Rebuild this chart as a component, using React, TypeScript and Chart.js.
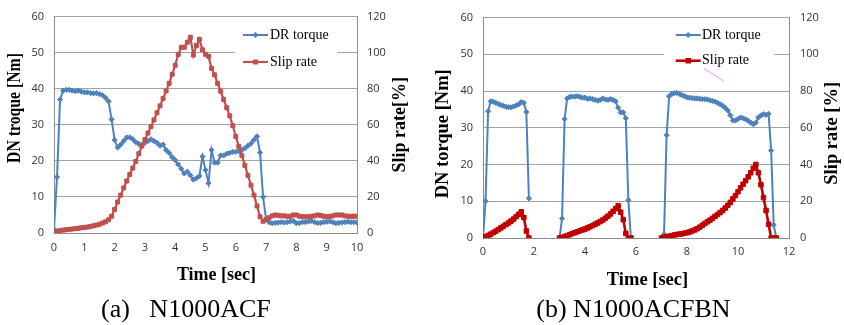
import React, { useEffect, useRef } from 'react';
import { Chart, registerables } from 'chart.js';

Chart.register(...registerables);

// ---------------- (a) N1000ACF ----------------
const timeA = [
  0, 0.1, 0.2, 0.3, 0.4, 0.5, 0.6, 0.7, 0.8, 0.9,
  1, 1.1, 1.2, 1.3, 1.4, 1.5, 1.6, 1.7, 1.8, 1.9,
  2, 2.1, 2.2, 2.3, 2.4, 2.5, 2.6, 2.7, 2.8, 2.9,
  3, 3.1, 3.2, 3.3, 3.4, 3.5, 3.6, 3.7, 3.8, 3.9,
  4, 4.1, 4.2, 4.3, 4.4, 4.5, 4.6, 4.7, 4.8, 4.9,
  5, 5.1, 5.2, 5.3, 5.4, 5.5, 5.6, 5.7, 5.8, 5.9,
  6, 6.1, 6.2, 6.3, 6.4, 6.5, 6.6, 6.7, 6.8, 6.9,
  7, 7.1, 7.2, 7.3, 7.4, 7.5, 7.6, 7.7, 7.8, 7.9,
  8, 8.1, 8.2, 8.3, 8.4, 8.5, 8.6, 8.7, 8.8, 8.9,
  9, 9.1, 9.2, 9.3, 9.4, 9.5, 9.6, 9.7, 9.8, 9.9,
  10,
];
const torqueA = [
  1.1, 15.5, 37.0, 39.5, 39.7, 39.7, 39.5, 39.3, 39.5, 39.2,
  39.0, 39.0, 38.8, 38.7, 38.8, 38.5, 38.2, 37.5, 36.5, 31.5,
  25.8, 23.7, 24.5, 25.5, 26.5, 26.5, 26.0, 25.2, 24.7, 24.5,
  25.0, 25.5, 26.0, 25.5, 25.0, 24.2, 24.5, 23.0, 22.2, 21.0,
  20.2, 19.0, 17.8, 16.5, 17.0, 16.0, 14.8, 15.2, 15.8, 21.2,
  17.5, 13.8, 23.0, 19.5, 19.5, 21.5, 21.5, 22.0, 22.2, 22.5,
  22.5, 22.7, 23.0, 23.5, 24.2, 24.8, 25.8, 26.8, 22.3, 10.0,
  3.8, 3.0, 2.7, 2.8, 2.9, 3.0, 2.9, 3.0, 3.2, 3.3,
  2.7, 2.8, 3.0, 3.0, 3.2, 3.3, 3.0, 2.8, 2.8, 3.0,
  3.1, 3.2, 3.0, 2.7, 2.8, 2.9, 3.0, 3.1, 3.0, 3.0,
  2.9,
];
const slipA = [
  0.8, 1.0, 1.3, 1.6, 1.8, 2.0, 2.2, 2.4, 2.6, 2.9,
  3.1, 3.3, 3.6, 4.0, 4.4, 4.9, 5.5, 6.2, 7.3, 9.3,
  13.0, 17.2, 21.0, 25.0, 28.8, 32.4, 36.0, 39.7, 44.0, 48.2,
  51.8, 55.4, 59.0, 62.7, 66.7, 70.5, 74.6, 78.8, 83.0, 88.0,
  93.0, 99.0, 103.0, 103.0, 105.8, 108.5, 98.7, 104.0, 107.4, 101.6,
  99.1, 98.0, 91.3, 87.7, 83.0, 78.6, 74.0, 69.5, 65.0, 59.5,
  53.5, 48.0, 43.0, 37.5, 32.0, 26.5, 21.0, 15.0, 9.0, 6.5,
  7.5, 8.5, 9.5, 10.0, 9.8, 9.5, 9.5, 9.3, 9.3, 10.0,
  10.0, 9.3, 9.0, 9.0, 9.0, 9.3, 9.5, 10.0, 9.8, 9.3,
  9.0, 9.2, 9.5, 10.0, 10.0, 10.0, 9.5, 9.3, 9.3, 9.3,
  9.3,
];
const xTicksA = [0, 1, 2, 3, 4, 5, 6, 7, 8, 9, 10];
const yTicksA = [0, 10, 20, 30, 40, 50, 60];
const y2TicksA = [0, 20, 40, 60, 80, 100, 120];

// ---------------- (b) N1000ACFBN ----------------
// three test runs; a null entry separates them
const timeB = [
  0, 0.1, 0.2, 0.3, 0.4, 0.5, 0.6, 0.7, 0.8, 0.9,
  1, 1.1, 1.2, 1.3, 1.4, 1.5, 1.6, 1.7, 1.8,
  2.4,
  3, 3.1, 3.2, 3.3, 3.4, 3.5, 3.6, 3.7, 3.8, 3.9,
  4, 4.1, 4.2, 4.3, 4.4, 4.5, 4.6, 4.7, 4.8, 4.9,
  5, 5.1, 5.2, 5.3, 5.4, 5.5, 5.6, 5.7, 5.8,
  6.4,
  7, 7.1, 7.2, 7.3, 7.4, 7.5, 7.6, 7.7, 7.8, 7.9,
  8, 8.1, 8.2, 8.3, 8.4, 8.5, 8.6, 8.7, 8.8, 8.9,
  9, 9.1, 9.2, 9.3, 9.4, 9.5, 9.6, 9.7, 9.8, 9.9,
  10, 10.1, 10.2, 10.3, 10.4, 10.5, 10.6, 10.7, 10.8, 10.9,
  11, 11.1, 11.2, 11.3, 11.4, 11.5,
];
const torqueB = [
  0, 10.0, 34.5, 37.2, 37.1, 36.8, 36.5, 36.2, 36.0, 35.7,
  35.6, 35.6, 35.8, 36.1, 36.4, 37.0, 36.8, 34.3, 10.8,
  null,
  0, 5.3, 32.4, 38.0, 38.4, 38.5, 38.5, 38.6, 38.4, 38.2,
  38.2, 37.9, 38.0, 37.8, 37.6, 37.4, 37.6, 38.0, 37.7, 37.6,
  37.8, 37.6, 37.2, 35.5, 34.2, 34.2, 32.6, 10.3, 0,
  null,
  0, 1.0, 28.0, 38.6, 39.2, 39.4, 39.5, 39.2, 38.9, 38.6,
  38.3, 38.2, 38.1, 38.0, 38.0, 37.9, 37.8, 37.8, 37.7, 37.5,
  37.3, 37.1, 36.8, 36.4, 36.0, 35.4, 34.7, 33.4, 32.0, 32.0,
  32.4, 32.8, 32.6, 32.3, 31.9, 31.4, 31.0, 31.4, 32.8, 33.4,
  33.7, 33.5, 33.8, 23.8, 3.6, 0,
];
const slipB = [
  0, 0.7, 1.4, 2.1, 2.9, 3.7, 4.6, 5.5, 6.4, 7.3,
  8.2, 9.2, 10.3, 11.6, 12.9, 14.3, 11.2, 3.8, 0,
  null,
  0, 0.3, 0.8, 1.3, 1.8, 2.4, 2.9, 3.4, 3.9, 4.4,
  4.9, 5.5, 6.1, 6.8, 7.5, 8.2, 9.0, 9.8, 10.8, 11.9,
  13.1, 14.5, 16.0, 17.6, 14.0, 10.0, 2.5, 0, 0,
  null,
  0, 0.3, 0.7, 1.0, 1.3, 1.6, 1.9, 2.1, 2.3, 2.6,
  2.9, 3.3, 3.8, 4.4, 5.1, 5.9, 6.9, 7.9, 8.8, 9.7,
  10.7, 11.8, 12.8, 13.9, 15.0, 16.3, 17.8, 19.4, 21.3, 23.1,
  25.2, 27.3, 29.3, 31.2, 33.3, 35.5, 38.0, 40.0, 35.5, 29.0,
  22.0, 15.0, 7.5, 0, 0, 0,
];
const xTicksB = [0, 2, 4, 6, 8, 10, 12];
const yTicksB = [0, 10, 20, 30, 40, 50, 60];
const y2TicksB = [0, 20, 40, 60, 80, 100, 120];

const seriesNames = ['DR torque', 'Slip rate'];

// ---------------- styling ----------------
const SANS = '"Open Sans", "Noto Sans", sans-serif';
const SERIF = '"Liberation Serif", "Times New Roman", serif';
const BLUE = '#4F81BD';
const RED_A = '#C0504D';
const RED_B = '#C00000';
const GRID = '#A3A3A3';
const AXIS = '#8C8C8C';
const TICK = '#333333';

function drawMarker(ctx: CanvasRenderingContext2D, style: string, x: number, y: number, r: number, color: string) {
  ctx.fillStyle = color;
  ctx.beginPath();
  if (style === 'rect') {
    const s = r * Math.SQRT1_2 + 0.5;
    ctx.rect(x - s, y - s, 2 * s, 2 * s);
  } else {
    const rr = r + 0.5;
    ctx.moveTo(x, y - rr);
    ctx.lineTo(x + rr, y);
    ctx.lineTo(x, y + rr);
    ctx.lineTo(x - rr, y);
    ctx.closePath();
  }
  ctx.fill();
}

const decorPlugin = {
  id: 'decor',
  afterDraw(chart: any, _args: any, opts: any) {
    const ctx: CanvasRenderingContext2D = chart.ctx;
    ctx.save();
    const lg = opts.legend;
    if (lg) {
      ctx.fillStyle = '#ffffff';
      ctx.fillRect(lg.box[0], lg.box[1], lg.box[2], lg.box[3]);
      chart.data.datasets.forEach((ds: any, i: number) => {
        const y = lg.rows[i];
        ctx.strokeStyle = ds.borderColor;
        ctx.lineWidth = ds.borderWidth;
        ctx.beginPath();
        ctx.moveTo(lg.x1, y);
        ctx.lineTo(lg.x2, y);
        ctx.stroke();
        drawMarker(ctx, ds.pointStyle, (lg.x1 + lg.x2) / 2, y, ds.pointRadius, ds.borderColor);
        ctx.fillStyle = '#000000';
        ctx.font = `${lg.size}px ${SERIF}`;
        ctx.textAlign = 'left';
        ctx.textBaseline = 'middle';
        ctx.fillText(ds.label, lg.textX, y);
      });
    }
    if (opts.mark) {
      const m = opts.mark;
      ctx.strokeStyle = m.color;
      ctx.lineWidth = 1;
      ctx.beginPath();
      ctx.moveTo(m.from[0], m.from[1]);
      ctx.lineTo(m.to[0], m.to[1]);
      ctx.stroke();
    }
    for (const t of opts.texts || []) {
      ctx.save();
      ctx.translate(t.x, t.y);
      if (t.rotate) ctx.rotate(-Math.PI / 2);
      if (t.stretch) ctx.scale(t.stretch, 1);
      ctx.font = `${t.bold ? 'bold ' : ''}${t.size}px ${SERIF}`;
      ctx.fillStyle = '#000000';
      ctx.textAlign = t.align || 'center';
      ctx.textBaseline = 'alphabetic';
      ctx.fillText(t.text, 0, 0);
      ctx.restore();
    }
    ctx.restore();
  },
};

function pairs(xs: number[], ys: (number | null)[]) {
  return xs.map((x, i) => ({ x, y: ys[i] }));
}

function buildConfig(p: any): any {
  const tickFont = { family: SANS, size: 11 };
  const setTicks = (arr: number[]) => (scale: any) => {
    scale.ticks = arr.map((v) => ({ value: v }));
  };
  return {
    type: 'line',
    data: {
      datasets: [
        {
          label: seriesNames[0],
          data: pairs(p.time, p.torque),
          yAxisID: 'y',
          borderColor: BLUE,
          backgroundColor: BLUE,
          borderWidth: 2,
          pointStyle: 'rectRot',
          pointRadius: 2.6,
          pointBorderWidth: 1,
          pointBackgroundColor: BLUE,
          pointBorderColor: BLUE,
          tension: 0,
          spanGaps: false,
          order: 1,
        },
        {
          label: seriesNames[1],
          data: pairs(p.time, p.slip),
          yAxisID: 'y2',
          borderColor: p.red,
          backgroundColor: p.red,
          borderWidth: p.redWidth,
          pointStyle: 'rect',
          pointRadius: p.redRadius,
          pointBorderWidth: 1,
          pointBackgroundColor: p.red,
          pointBorderColor: p.red,
          tension: 0,
          spanGaps: false,
          order: 0,
        },
      ],
    },
    options: {
      responsive: false,
      animation: false,
      devicePixelRatio: 1,
      layout: { padding: p.padding },
      plugins: {
        legend: { display: false },
        tooltip: { enabled: false },
        decor: p.decor,
      },
      scales: {
        x: {
          type: 'linear',
          min: p.xTicks[0],
          max: p.xTicks[p.xTicks.length - 1],
          afterBuildTicks: setTicks(p.xTicks),
          afterFit: (s: any) => { s.height = 30; },
          ticks: { font: tickFont, color: TICK, padding: p.xPad, maxRotation: 0, autoSkip: false },
          grid: { display: true, drawOnChartArea: false, drawTicks: false },
          border: { display: true, color: AXIS, width: 1 },
        },
        y: {
          type: 'linear',
          position: 'left',
          min: 0,
          max: 60,
          afterBuildTicks: setTicks(p.yTicks),
          afterFit: (s: any) => { s.width = p.yWidth; },
          ticks: { font: tickFont, color: TICK, padding: 10 },
          grid: { color: GRID, lineWidth: 1, drawTicks: false },
          border: { display: true, color: AXIS, width: 1 },
        },
        y2: {
          type: 'linear',
          position: 'right',
          min: 0,
          max: 120,
          afterBuildTicks: setTicks(p.y2Ticks),
          afterFit: (s: any) => { s.width = p.y2Width; },
          ticks: { font: tickFont, color: TICK, padding: p.y2Pad },
          grid: { drawOnChartArea: false, drawTicks: false },
          border: { display: true, color: AXIS, width: 1 },
        },
      },
    },
    plugins: [decorPlugin],
  };
}

const configA = () =>
  buildConfig({
    time: timeA,
    torque: torqueA,
    slip: slipA,
    red: RED_A,
    redWidth: 2.2,
    redRadius: 2.8,
    xTicks: xTicksA,
    yTicks: yTicksA,
    y2Ticks: y2TicksA,
    padding: { top: 12, left: 0, right: 0, bottom: 62 },
    yWidth: 54,
    y2Width: 65,
    xPad: 8,
    y2Pad: 10,
    decor: {
      legend: { box: [235, 22, 102, 52], x1: 243, x2: 268, textX: 270, rows: [35, 62], size: 14 },
      texts: [
        { text: 'DN troque [Nm]', x: 19.5, y: 108, size: 18, bold: true, rotate: true, stretch: 0.875 },
        { text: 'Slip rate[%]', x: 404.5, y: 124.7, size: 18, bold: true, rotate: true },
        { text: 'Time [sec]', x: 216.5, y: 280, size: 18, bold: true },
        { text: '(a)   N1000ACF', x: 101, y: 316.7, size: 26, align: 'left' },
      ],
    },
  });

const configB = () =>
  buildConfig({
    time: timeB,
    torque: torqueB,
    slip: slipB,
    red: RED_B,
    redWidth: 2.6,
    redRadius: 3.2,
    xTicks: xTicksB,
    yTicks: yTicksB,
    y2Ticks: y2TicksB,
    padding: { top: 13, left: 0, right: 0, bottom: 57 },
    yWidth: 61,
    y2Width: 55,
    xPad: 7,
    y2Pad: 11,
    decor: {
      legend: { box: [242, 22, 110, 52], x1: 253.7, x2: 278.7, textX: 280, rows: [35, 60.7], size: 14 },
      mark: { from: [281.7, 68.3], to: [301.7, 81], color: '#FF8CFF' },
      texts: [
        { text: 'DN torque [Nm]', x: 26, y: 133.8, size: 18.5, bold: true, rotate: true },
        { text: 'Slip rate [%]', x: 415, y: 133.3, size: 18.5, bold: true, rotate: true },
        { text: 'Time [sec]', x: 225.5, y: 285, size: 18.5, bold: true },
        { text: '(b) N1000ACFBN', x: 114.3, y: 316.7, size: 26, align: 'left' },
      ],
    },
  });

function ChartCanvas({ make, left }: { make: () => any; left: number }) {
  const ref = useRef<HTMLCanvasElement | null>(null);
  useEffect(() => {
    if (!ref.current) return;
    const chart = new Chart(ref.current, make());
    return () => chart.destroy();
  }, [make]);
  return (
    <canvas
      ref={ref}
      width={422}
      height={325}
      style={{ position: 'absolute', left, top: 0, width: 422, height: 325 }}
    />
  );
}

export default function App() {
  return (
    <div style={{ position: 'absolute', left: 0, top: 0, width: 844, height: 325, background: '#ffffff' }}>
      <ChartCanvas make={configA} left={0} />
      <ChartCanvas make={configB} left={422} />
    </div>
  );
}
